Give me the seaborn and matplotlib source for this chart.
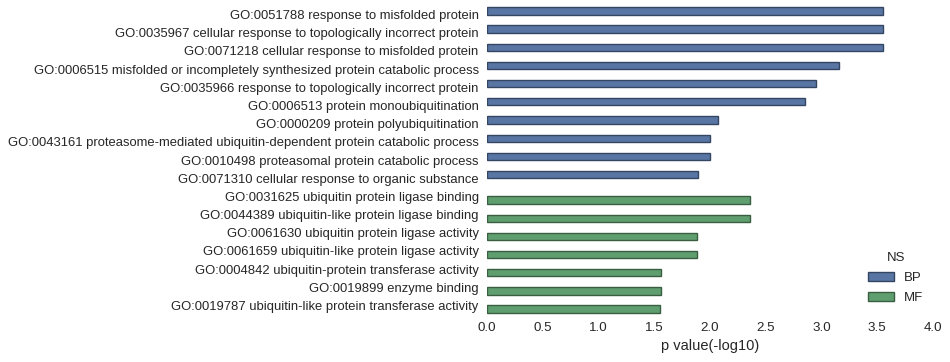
import pandas as pd
import matplotlib
matplotlib.use("Agg")
import matplotlib.pyplot as plt
import matplotlib.colors as mcolors
import seaborn as sns

# GO terms, enrichment values and namespace
terms = [
    "GO:0051788 response to misfolded protein",
    "GO:0035967 cellular response to topologically incorrect protein",
    "GO:0071218 cellular response to misfolded protein",
    "GO:0006515 misfolded or incompletely synthesized protein catabolic process",
    "GO:0035966 response to topologically incorrect protein",
    "GO:0006513 protein monoubiquitination",
    "GO:0000209 protein polyubiquitination",
    "GO:0043161 proteasome-mediated ubiquitin-dependent protein catabolic process",
    "GO:0010498 proteasomal protein catabolic process",
    "GO:0071310 cellular response to organic substance",
    "GO:0031625 ubiquitin protein ligase binding",
    "GO:0044389 ubiquitin-like protein ligase binding",
    "GO:0061630 ubiquitin protein ligase activity",
    "GO:0061659 ubiquitin-like protein ligase activity",
    "GO:0004842 ubiquitin-protein transferase activity",
    "GO:0019899 enzyme binding",
    "GO:0019787 ubiquitin-like protein transferase activity",
]
pvals = [3.55, 3.55, 3.55, 3.16, 2.95, 2.85, 2.07, 2.00, 2.00, 1.89,
         2.36, 2.36, 1.88, 1.88, 1.56, 1.56, 1.55]
ns = ["BP"] * 10 + ["MF"] * 7

df = pd.DataFrame({"term": terms, "p value(-log10)": pvals, "NS": ns})

sns.set_style("white")
plt.rcParams["font.family"] = ["Liberation Sans", "DejaVu Sans"]
plt.rcParams["font.size"] = 9.4

fig = plt.figure(figsize=(9.5, 3.62), dpi=100)
ax = fig.add_axes([0.5126, 0.131, 0.4695, 0.854])

sns.barplot(data=df, x="p value(-log10)", y="term", hue="NS", dodge=True,
            palette=["#4C72B0", "#55A868"], orient="h", ax=ax, width=0.8)

# darker outlines like the old seaborn bars
for p in ax.patches:
    fc = mcolors.to_rgb(p.get_facecolor())
    p.set_edgecolor(tuple(c * 0.6 for c in fc))
    p.set_linewidth(1)

ax.set_xlim(0, 4.0)
ax.set_xticks([0, 0.5, 1.0, 1.5, 2.0, 2.5, 3.0, 3.5, 4.0])
ax.set_ylabel("")
ax.set_xlabel("p value(-log10)", fontsize=10.5, color="#262626")
ax.tick_params(axis="y", length=0, labelsize=9.4, colors="#262626", pad=6)
ax.tick_params(axis="x", length=0, labelsize=9.6, colors="#262626", pad=5)
sns.despine(ax=ax, left=True, bottom=True)

leg = ax.legend(title="NS", loc="lower right", frameon=False,
                bbox_to_anchor=(1.005, -0.005), fontsize=9.5, title_fontsize=9.5,
                handlelength=1.9, labelspacing=0.6)

plt.savefig("out.png", dpi=100)
